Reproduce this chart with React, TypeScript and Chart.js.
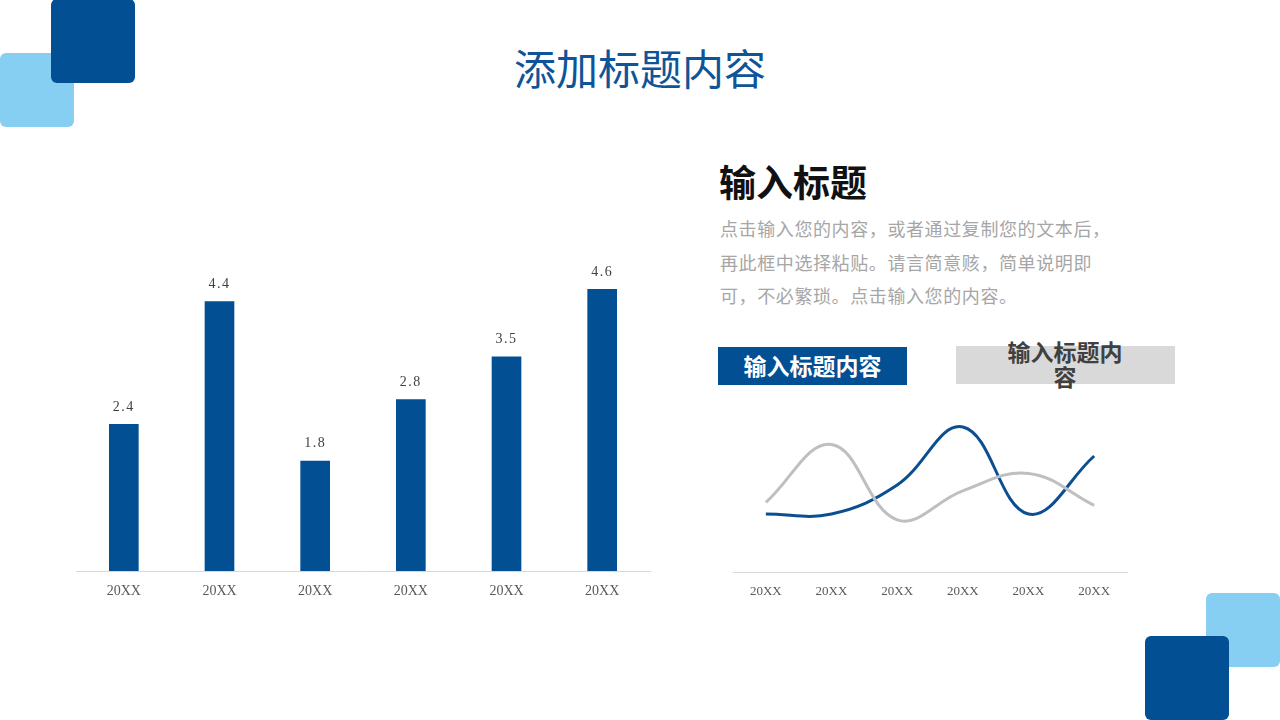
import React, { useEffect, useRef } from "react";
import { Chart, registerables } from "chart.js";

Chart.register(...registerables);

const barCategories = ["20XX", "20XX", "20XX", "20XX", "20XX", "20XX"];
const barValues = [2.4, 4.4, 1.8, 2.8, 3.5, 4.6];

const lineCategories = ["20XX", "20XX", "20XX", "20XX", "20XX", "20XX"];
const lineBlue = [2, 2, 3, 5, 2, 4];
const lineGray = [2.4, 4.4, 1.8, 2.8, 3.4, 2.3];

const DARK = "#024F94";
const LIGHT = "#86CEF2";
const CJK = '"Noto Sans CJK SC", "Noto Sans", sans-serif';
const LATIN = '"Liberation Serif", serif';

const valueLabelPlugin = {
  id: "valueLabels",
  afterDatasetsDraw(chart: any) {
    const ctx = chart.ctx;
    const meta = chart.getDatasetMeta(0);
    ctx.save();
    ctx.font = `14px ${LATIN}`;
    try {
      ctx.letterSpacing = "1.5px";
    } catch (e) {}
    ctx.fillStyle = "#404040";
    ctx.textAlign = "center";
    ctx.textBaseline = "middle";
    meta.data.forEach((el: any, i: number) => {
      ctx.fillText(barValues[i].toFixed(1), el.x, el.y - 17);
    });
    ctx.restore();
  },
};

function BarChart() {
  const ref = useRef<HTMLCanvasElement>(null);
  useEffect(() => {
    const chart = new Chart(ref.current!, {
      type: "bar",
      data: {
        labels: barCategories,
        datasets: [
          {
            data: barValues,
            backgroundColor: DARK,
            barPercentage: 0.62,
            categoryPercentage: 0.5,
          },
        ],
      },
      options: {
        animation: false,
        responsive: false,
        maintainAspectRatio: false,
        layout: { padding: { left: 16, right: 20, top: 34.5, bottom: 0 } },
        plugins: { legend: { display: false }, tooltip: { enabled: false } },
        scales: {
          x: {
            grid: { display: false, drawTicks: false },
            border: { display: true, color: "#D9D9D9", width: 1 },
            ticks: { color: "#595959", font: { family: LATIN, size: 14 }, padding: 12 },
            afterFit: (s: any) => {
              s.height = 39;
            },
          },
          y: { display: false, min: 0, max: 5 },
        },
      },
      plugins: [valueLabelPlugin],
    });
    return () => chart.destroy();
  }, []);
  return (
    <canvas
      ref={ref}
      width={610}
      height={380}
      style={{ position: "absolute", left: 60, top: 230, width: 610, height: 380 }}
    />
  );
}

function LineChart() {
  const ref = useRef<HTMLCanvasElement>(null);
  useEffect(() => {
    const chart = new Chart(ref.current!, {
      type: "line",
      data: {
        labels: lineCategories,
        datasets: [
          {
            data: lineGray,
            borderColor: "#BFBFBF",
            borderWidth: 3,
            pointRadius: 0,
            tension: 0.4,
            fill: false,
          },
          {
            data: lineBlue,
            borderColor: "#0B4F91",
            borderWidth: 3,
            pointRadius: 0,
            tension: 0.4,
            fill: false,
          },
        ],
      },
      options: {
        animation: false,
        responsive: false,
        maintainAspectRatio: false,
        layout: { padding: { left: 13, right: 13, top: 18, bottom: 0 } },
        plugins: { legend: { display: false }, tooltip: { enabled: false } },
        scales: {
          x: {
            offset: true,
            grid: { display: false, drawTicks: false },
            border: { display: true, color: "#D9D9D9", width: 1 },
            ticks: { color: "#595959", font: { family: LATIN, size: 13 }, padding: 12 },
            afterFit: (s: any) => {
              s.height = 38;
            },
          },
          y: { display: false, min: 0, max: 6 },
        },
      },
    });
    return () => chart.destroy();
  }, []);
  return (
    <canvas
      ref={ref}
      width={420}
      height={230}
      style={{ position: "absolute", left: 720, top: 380, width: 420, height: 230 }}
    />
  );
}

export default function App() {
  const sq = (left: number, top: number, size: number, color: string) => (
    <div
      style={{
        position: "absolute",
        left,
        top,
        width: size,
        height: size,
        background: color,
        borderRadius: 6,
      }}
    />
  );
  return (
    <div
      style={{
        position: "fixed",
        left: 0,
        top: 0,
        width: 1280,
        height: 720,
        background: "#FFFFFF",
        overflow: "hidden",
        fontFamily: CJK,
      }}
    >
      {sq(0, 53, 74, LIGHT)}
      {sq(51, -1, 84, DARK)}
      {sq(1206, 593, 74, LIGHT)}
      {sq(1145, 636, 84, DARK)}

      <div
        style={{
          position: "absolute",
          left: 0,
          width: 1280,
          top: 39,
          textAlign: "center",
          fontSize: 42,
          lineHeight: "56px",
          color: "#0F5499",
        }}
      >
        添加标题内容
      </div>

      <BarChart />

      <div
        style={{
          position: "absolute",
          left: 719,
          top: 157,
          fontSize: 37,
          lineHeight: "48px",
          fontWeight: 700,
          color: "#111111",
        }}
      >
        输入标题
      </div>
      <div
        style={{
          position: "absolute",
          left: 720,
          top: 212,
          width: 420,
          fontSize: 18,
          lineHeight: "33.5px",
          letterSpacing: "0.6px",
          color: "#A6A6A6",
        }}
      >
        <div>点击输入您的内容，或者通过复制您的文本后，</div>
        <div>再此框中选择粘贴。请言简意赅，简单说明即</div>
        <div>可，不必繁琐。点击输入您的内容。</div>
      </div>

      <div
        style={{
          position: "absolute",
          left: 718,
          top: 347,
          width: 189,
          height: 38,
          background: DARK,
          color: "#FFFFFF",
          fontSize: 23,
          fontWeight: 700,
          lineHeight: "36px",
          textAlign: "center",
        }}
      >
        输入标题内容
      </div>
      <div
        style={{
          position: "absolute",
          left: 956,
          top: 346,
          width: 219,
          height: 38,
          background: "#D9D9D9",
        }}
      />
      <div
        style={{
          position: "absolute",
          left: 1000,
          top: 339,
          width: 130,
          color: "#404040",
          fontSize: 23,
          fontWeight: 700,
          lineHeight: "25px",
          textAlign: "center",
        }}
      >
        输入标题内容
      </div>

      <LineChart />
    </div>
  );
}
